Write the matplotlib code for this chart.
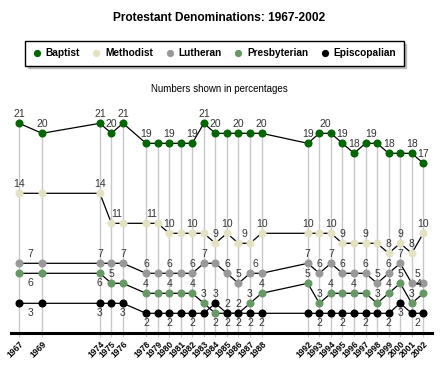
import matplotlib
matplotlib.use("Agg")
import matplotlib.pyplot as plt
from matplotlib.lines import Line2D
import numpy as np

plt.rcParams['font.family'] = ['Liberation Sans', 'DejaVu Sans']

years = [1967, 1969, 1974, 1975, 1976, 1978, 1979, 1980, 1981, 1982, 1983, 1984,
         1985, 1986, 1987, 1988, 1992, 1993, 1994, 1995, 1996, 1997, 1998, 1999,
         2000, 2001, 2002]

baptist = [21, 20, 21, 20, 21, 19, 19, 19, 19, 19, 21, 20, 20, 20, 20, 20,
           19, 20, 20, 19, 18, 19, 19, 18, 18, 18, 17]
methodist = [14, 14, 14, 11, 11, 11, 11, 10, 10, 10, 10, 9, 10, 9, 9, 10,
             10, 10, 10, 9, 9, 9, 9, 8, 9, 8, 10]
lutheran = [7, 7, 7, 7, 7, 6, 6, 6, 6, 6, 7, 7, 6, 5, 6, 6,
            7, 6, 7, 6, 6, 6, 5, 6, 7, 5, 5]
presbyterian = [6, 6, 6, 5, 5, 4, 4, 4, 4, 4, 3, 2, 2, 2, 3, 4,
                5, 3, 4, 4, 4, 4, 3, 4, 5, 3, 4]
episcopalian = [3, 3, 3, 3, 3, 2, 2, 2, 2, 2, 2, 3, 2, 2, 2, 2,
                2, 2, 2, 2, 2, 2, 2, 2, 3, 2, 2]

series_names = ["Baptist", "Methodist", "Lutheran", "Presbyterian", "Episcopalian"]
series_values = [baptist, methodist, lutheran, presbyterian, episcopalian]
colors = ["#006600", "#e3e3c3", "#999999", "#669966", "#000000"]

# label layout: (year, where) where 'a'=above, 'b'=below; 'm' suffix = midpoint to next year
label_layout = {
    "Baptist": [(1967, 'a'), (1969, 'a'), (1974, 'a'), (1975, 'a'), (1976, 'a'), (1978, 'a'),
                (1980, 'a'), (1982, 'a'), (1983, 'a'), (1984, 'a'), (1986, 'a'), (1988, 'a'),
                (1992, 'a'), (1993, 'am'), (1995, 'a'), (1996, 'a'), (1997, 'am'), (1999, 'a'),
                (2001, 'a'), (2002, 'a')],
    "Methodist": [(1967, 'a'), (1974, 'a'), (1975, 'am'), (1978, 'am'), (1980, 'a'), (1982, 'a'),
                  (1984, 'a'), (1985, 'a'), (1986, 'am'), (1988, 'a'), (1992, 'a'), (1994, 'a'),
                  (1995, 'a'), (1997, 'a'), (1999, 'a'), (2000, 'a'), (2001, 'a'), (2002, 'a')],
    "Lutheran": [(1967, 'am'), (1974, 'a'), (1976, 'a'), (1978, 'a'), (1980, 'a'), (1982, 'a'),
                 (1983, 'a'), (1985, 'a'), (1986, 'a'), (1987, 'am'), (1992, 'a'), (1993, 'a'),
                 (1994, 'a'), (1995, 'a'), (1997, 'a'), (1998, 'a'), (1999, 'a'), (2000, 'a'),
                 (2001, 'am')],
    "Presbyterian": [(1967, 'bm'), (1974, 'b'), (1975, 'a'), (1978, 'a'), (1980, 'a'), (1982, 'a'),
                     (1983, 'a'), (1984, 'b'), (1985, 'a'), (1986, 'a'), (1987, 'a'), (1988, 'a'),
                     (1992, 'a'), (1993, 'a'), (1994, 'a'), (1996, 'a'), (1998, 'a'), (1999, 'a'),
                     (2000, 'a'), (2001, 'a'), (2002, 'al')],
    "Episcopalian": [(1967, 'bm'), (1974, 'b'), (1976, 'b'), (1978, 'b'), (1980, 'b'), (1982, 'b'),
                     (1984, 'a'), (1985, 'b'), (1986, 'b'), (1987, 'b'), (1988, 'b'), (1993, 'b'),
                     (1995, 'b'), (1997, 'b'), (1999, 'b'), (2000, 'b'), (2001, 'bm')],
}

W, H = 440, 365
fig = plt.figure(figsize=(W / 100, H / 100), dpi=100)

# axes pixel box
x_left_px, x_right_px = 11, 432
y_bottom_px, y_top_px = 334.5, 100
ax = fig.add_axes([x_left_px / W, (H - y_bottom_px) / H,
                   (x_right_px - x_left_px) / W, (y_bottom_px - y_top_px) / H])

px_per_year = (423.3 - 19) / 35.0
ax.set_xlim(1967 - (19 - x_left_px) / px_per_year, 2002 + (x_right_px - 423.3) / px_per_year)
px_per_unit = 10.0
zero_px = 333.3
ax.set_ylim(-(y_bottom_px - zero_px) / px_per_unit, (zero_px - y_top_px) / px_per_unit)

yrs = np.array(years, dtype=float)
top = np.max(np.array(series_values), axis=0)

# vertical gray guide lines
for x, t in zip(yrs, top):
    ax.plot([x, x], [ax.get_ylim()[0], t], color="#c8c8c8", lw=1.0, zorder=1,
            solid_capstyle='butt', clip_on=False)

# series lines and markers
zorders = {"Baptist": 3, "Methodist": 3, "Lutheran": 3, "Presbyterian": 3, "Episcopalian": 4}
for name, vals, c in zip(series_names, series_values, colors):
    ax.plot(yrs, vals, color="black", lw=0.9, zorder=2)
    ax.plot(yrs, vals, linestyle='none', marker='o', markersize=4.8,
            markerfacecolor=c, markeredgecolor=c, zorder=zorders[name])

# value labels
for name, vals in zip(series_names, series_values):
    for yr, where in label_layout[name]:
        i = years.index(yr)
        x = yrs[i]
        if 'm' in where:
            x = (yrs[i] + yrs[i + 1]) / 2.0
        dx = -5 if 'l' in where else 0
        dy = 9.5 if where[0] == 'a' else -9.5
        ax.annotate(str(vals[i]), (x, vals[i]), xytext=(dx * 0.72, dy * 0.72),
                    textcoords='offset points', ha='center', va='center',
                    fontsize=7.5, color="#333333", zorder=6)

# axis styling
for s in ['top', 'right', 'left']:
    ax.spines[s].set_visible(False)
ax.spines['bottom'].set_linewidth(2.2)
ax.spines['bottom'].set_position(('data', 0))
ax.set_yticks([])
ax.set_xticks(yrs)
ax.set_xticklabels([str(y) for y in years], rotation=45, ha='right', va='top',
                   fontsize=6.2, fontweight='bold', rotation_mode='anchor')
ax.tick_params(axis='x', length=3, width=0.8, color="#c8c8c8", pad=1.5)
ax.patch.set_visible(False)

# title and subtitle
fig.text(219 / W, 1 - 18 / H, "Protestant Denominations: 1967-2002", ha='center', va='center',
         fontsize=8.6, fontweight='bold')
fig.text(219 / W, 1 - 89 / H, "Numbers shown in percentages", ha='center', va='center',
         fontsize=7.0)

# legend
handles = [Line2D([], [], linestyle='none', marker='o', markersize=4.2,
                  markerfacecolor=c, markeredgecolor=c) for c in colors]
leg = fig.legend(handles, series_names, loc='center', bbox_to_anchor=(214.5 / W, 1 - 53.5 / H),
                 ncol=5, frameon=True, fancybox=False, shadow={'color': '#bbbbbb', 'alpha': 1},
                 prop={'weight': 'bold', 'size': 7.3}, handlelength=0.8, handletextpad=0.5,
                 columnspacing=1.2, borderpad=0.7, edgecolor='black')
leg.get_frame().set_linewidth(1.0)

fig.savefig("out.png", dpi=100)
